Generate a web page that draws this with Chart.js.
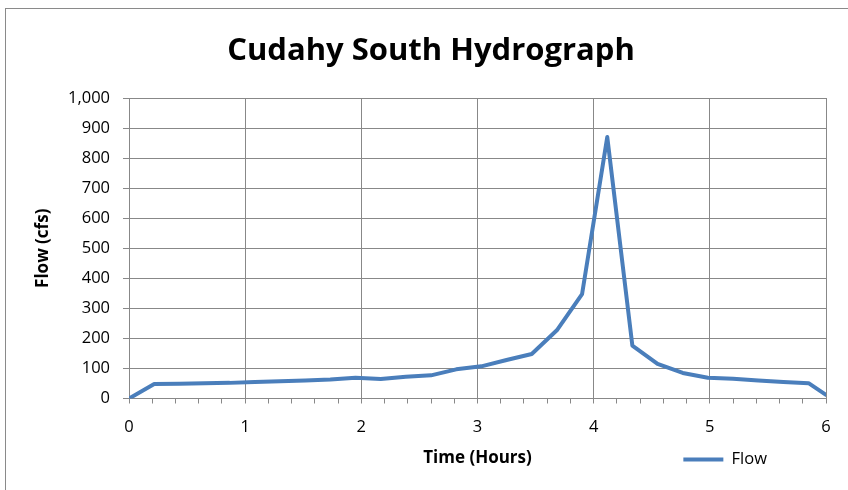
<!DOCTYPE html>
<html>
<head>
<meta charset="utf-8">
<script src="https://cdn.jsdelivr.net/npm/chart.js@4.4.0/dist/chart.umd.min.js"></script>
<style>
html, body { margin: 0; padding: 0; background: #fff; overflow: hidden; }
#frame { position: absolute; left: 5px; top: 8px; width: 860px; height: 500px; border: 1px solid #8a8a8a; }
#wrap { position: absolute; left: 0; top: 0; width: 848px; height: 490px; }
</style>
</head>
<body>
<div id="frame"></div>
<div id="wrap"><canvas id="hydro"></canvas></div>
<script>
// hydrograph values
var timeHours = [0, 0.217, 0.433, 0.65, 0.867, 1.083, 1.3, 1.517, 1.733, 1.95,
                 2.167, 2.383, 2.6, 2.817, 3.033, 3.25, 3.467, 3.683, 3.9, 4.117,
                 4.333, 4.55, 4.767, 4.983, 5.2, 5.417, 5.633, 5.85, 6.0];
var flowCfs = [0, 48, 49, 51, 52, 55, 57, 60, 63, 69,
               65, 72, 77, 97, 107, 128, 148, 227, 347, 870,
               176, 115, 85, 69, 66, 60, 55, 51, 12];
var seriesName = "Flow";
var chartTitle = "Cudahy South Hydrograph";
var xTitle = "Time (Hours)";
var yTitle = "Flow (cfs)";

var gris = "#888888";
var bleu = "#4a7ebb";

var points = [];
for (var i = 0; i < timeHours.length; i++) {
  points.push({ x: timeHours[i], y: flowCfs[i] });
}

function entier(v) {
  return Math.abs(v - Math.round(v)) < 1e-6;
}

// move the legend to the left, on the row of the x title
var legendeGauche = {
  id: "legendeGauche",
  afterLayout: function (chart) {
    chart.legend.right = 777;
  }
};

new Chart(document.getElementById("hydro"), {
  type: "line",
  data: {
    datasets: [{
      label: seriesName,
      data: points,
      borderColor: bleu,
      backgroundColor: bleu,
      borderWidth: 4,
      borderJoinStyle: "round",
      borderCapStyle: "round",
      pointRadius: 0,
      tension: 0,
      fill: false
    }]
  },
  options: {
    responsive: true,
    maintainAspectRatio: false,
    devicePixelRatio: 1,
    animation: false,
    layout: { padding: { left: 36, right: 22, top: 8, bottom: 12.25 } },
    plugins: {
      title: {
        display: true,
        text: chartTitle,
        color: "#000",
        font: { family: "'Open Sans'", size: 31, weight: "bold", lineHeight: 1.2 },
        padding: { top: 25, bottom: 27.8 }
      },
      legend: {
        position: "bottom",
        align: "end",
        labels: {
          color: "#000",
          font: { family: "'Open Sans'", size: 16.5 },
          usePointStyle: true,
          pointStyle: "line",
          pointStyleWidth: 40,
          padding: 10
        }
      },
      tooltip: { enabled: false }
    },
    scales: {
      x: {
        type: "linear",
        min: 0,
        max: 6,
        afterFit: function (scale) { scale.height = 42.75; },
        ticks: {
          stepSize: 0.2,
          autoSkip: false,
          maxRotation: 0,
          color: "#000",
          padding: 14,
          font: { family: "'Open Sans'", size: 16.5 },
          callback: function (v) { return entier(v) ? String(Math.round(v)) : ""; }
        },
        grid: {
          color: function (ctx) { return entier(ctx.tick.value) ? gris : "rgba(0,0,0,0)"; },
          tickColor: gris,
          tickLength: 5,
          lineWidth: 1
        },
        border: { color: gris, width: 1 },
        title: {
          display: true,
          text: xTitle,
          color: "#000",
          font: { family: "'Open Sans'", size: 17, weight: "bold", lineHeight: 1.2 },
          padding: { top: 0, bottom: -27 }
        }
      },
      y: {
        min: 0,
        max: 1000,
        afterFit: function (scale) { scale.width = 93; },
        ticks: {
          stepSize: 100,
          color: "#000",
          padding: 13,
          font: { family: "'Open Sans'", size: 16.5 },
          callback: function (v) { return v.toLocaleString("en-US"); }
        },
        grid: { color: gris, tickColor: gris, tickLength: 6, lineWidth: 1 },
        border: { color: gris, width: 1 },
        title: {
          display: true,
          text: yTitle,
          color: "#000",
          font: { family: "'Open Sans'", size: 17, weight: "bold", lineHeight: 1.2 },
          padding: { top: -3.2, bottom: 0 }
        }
      }
    }
  },
  plugins: [legendeGauche]
});
</script>
</body>
</html>
